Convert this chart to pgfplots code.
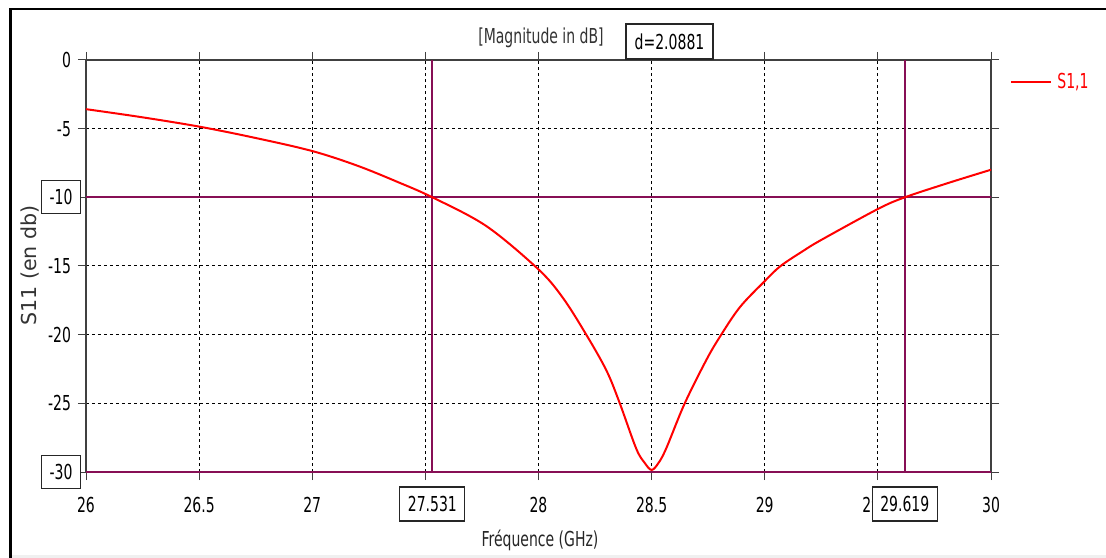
\documentclass[border=0pt]{standalone}
\usepackage{fontspec}
\setmainfont{DejaVu Sans}[FakeStretch=0.68]
\newfontfamily\ylabfont{DejaVu Sans}
\usepackage{pgfplots}
\pgfplotsset{compat=1.18}
\definecolor{mkr}{HTML}{870F55}
\definecolor{sred}{HTML}{FF0000}
\definecolor{axgray}{HTML}{404040}
\begin{document}
\begin{tikzpicture}[font=\fontsize{10.3bp}{12bp}\selectfont]
\path[use as bounding box] (0,0) rectangle (553bp,279bp);
\fill[gray!12] (5.25bp,0) rectangle (553bp,1.5bp);
\draw[line width=1.2bp] (5.25bp,0) -- (5.25bp,274.5bp) -- (553bp,274.5bp);

\begin{axis}[
  at={(43bp,43bp)}, anchor=south west,
  scale only axis, width=452.5bp, height=206bp,
  xmin=26, xmax=30, ymin=-30, ymax=0,
  xtick={26,26.5,...,30}, ytick={-30,-25,...,0},
  % labels under the marker boxes are left blank
  xticklabels={26,26.5,27,,28,28.5,29,29.5,30},
  yticklabels={,-25,-20,-15,,-5,0},
  tick align=outside, major tick length=4bp,
  tick style={axgray, line width=0.5bp},
  axis line style={axgray, line width=0.75bp},
  grid=major,
  major grid style={black, line width=0.5bp, dash pattern=on 1.5bp off 1.5bp},
  xticklabel style={anchor=center, yshift=-12.5bp},
  yticklabel style={anchor=east},
  clip=false,
]
% marker lines
\addplot[mkr, line width=1bp] coordinates {(26,-10) (30,-10)};
\addplot[mkr, line width=1bp] coordinates {(26,-30) (30,-30)};
\addplot[mkr, line width=1bp] coordinates {(27.531,-30) (27.531,0)};
\addplot[mkr, line width=1bp] coordinates {(29.619,-30) (29.619,0)};

% S1,1
\addplot[sred, line width=1bp, smooth, tension=0.55] coordinates {
  (26.00,-3.58) (26.24,-4.15) (26.50,-4.85) (26.75,-5.68) (27.00,-6.63)
  (27.20,-7.70) (27.38,-8.90) (27.531,-10.0) (27.77,-12.1) (28.00,-15.25)
  (28.107,-17.3) (28.21,-19.97) (28.30,-22.6) (28.358,-24.94) (28.432,-28.3)
  (28.47,-29.35) (28.50,-29.85) (28.53,-29.35) (28.564,-28.3) (28.645,-25.05)
  (28.74,-21.9) (28.80,-20.2) (28.89,-18.0) (29.00,-16.1) (29.07,-15.0)
  (29.17,-13.9) (29.25,-13.1) (29.50,-10.85) (29.619,-10.0) (29.81,-8.96)
  (30.00,-7.99)
};

\coordinate (ma) at (axis cs:27.531,-30);
\coordinate (mb) at (axis cs:29.619,-30);
\coordinate (ya) at (axis cs:26,-10);
\coordinate (yb) at (axis cs:26,-30);
\end{axis}

% marker value boxes
\tikzset{mbox/.style={draw=black!85, fill=white, line width=0.6bp, inner sep=0pt, minimum height=17bp}}
\node[mbox, minimum width=32.5bp] at ([yshift=-16bp]ma) {27.531};
\node[mbox, minimum width=32.5bp] at ([yshift=-16bp]mb) {29.619};
\node[mbox, minimum width=19.5bp, minimum height=16.5bp] at ([xshift=-12.5bp]ya) {-10};
\node[mbox, minimum width=19.5bp, minimum height=16.5bp] at ([xshift=-12.5bp]yb) {-30};

% title and delta box
\node[text=black!80] at (270.5bp,260bp) {[Magnitude in dB]};
\node[mbox, minimum width=43.5bp, minimum height=17.5bp] at (334.75bp,258.25bp) {d=2.0881};

% legend
\draw[sred, line width=1bp] (505.5bp,238.15bp) -- (525.5bp,238.15bp);
\node[text=sred, anchor=west, inner sep=0pt] at (528.5bp,237.8bp) {S1,1};

% axis labels
\node[rotate=90, text=black!80, font=\ylabfont\fontsize{10.3bp}{12bp}\selectfont] at (15bp,146.25bp) {S11 (en db)};
\node[text=black!85] at (270bp,9bp) {Fréquence (GHz)};
\end{tikzpicture}
\end{document}
